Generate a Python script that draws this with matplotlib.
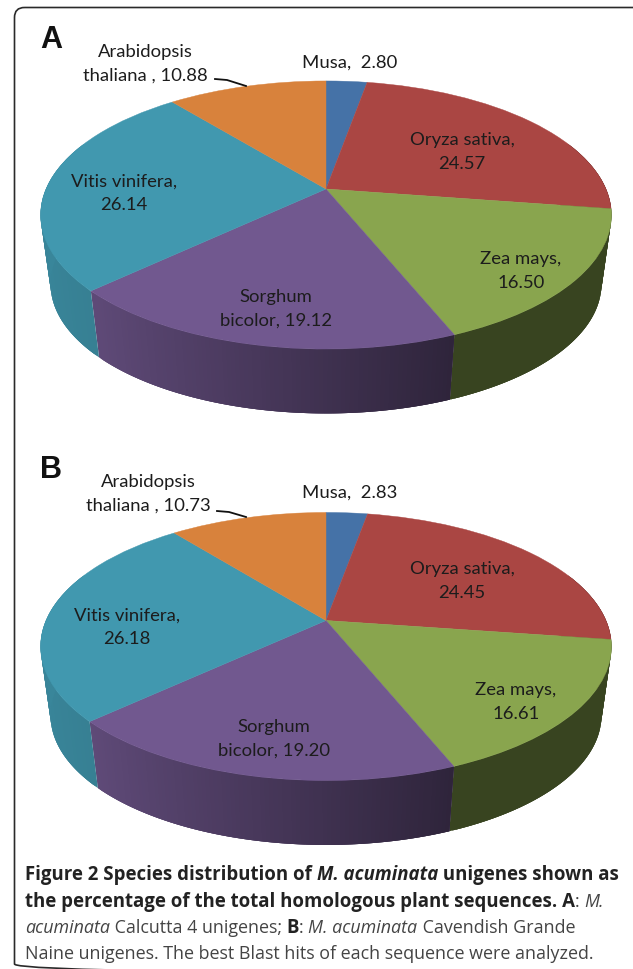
import numpy as np
import matplotlib
matplotlib.use("Agg")
import matplotlib.pyplot as plt
from matplotlib.transforms import Transform
from matplotlib.patches import FancyBboxPatch
from matplotlib.collections import PolyCollection

species = ["Musa", "Oryza sativa", "Zea mays", "Sorghum bicolor", "Vitis vinifera", "Arabidopsis thaliana"]
values_a = [2.80, 24.57, 16.50, 19.12, 26.14, 10.88]
values_b = [2.83, 24.45, 16.61, 19.20, 26.18, 10.73]
colors = ["#4572a7", "#aa4643", "#89a54e", "#71588f", "#4198af", "#d8823c"]

W, H = 633, 970
SANS = ["Lato", "DejaVu Sans"]
CAP = ["Open Sans", "DejaVu Sans"]

fig = plt.figure(figsize=(W / 100, H / 100), dpi=100)
ax = fig.add_axes([0, 0, 1, 1])


class Persp(Transform):
    input_dims = output_dims = 2

    def __init__(self, cx, cy, a=280.0, b=129.0, k=0.194, s=1.0, dy=0.0):
        super().__init__()
        self.p = (cx, cy, a, b, k, s, dy)

    def transform_non_affine(self, values):
        cx, cy, a, b, k, s, dy = self.p
        v = np.asarray(values, float)
        w = 1 + k * v[:, 1]
        return np.column_stack([cx + s * a * v[:, 0] / w, cy - s * b * v[:, 1] / w + dy])


def draw_pie(values, cy):
    top = Persp(326, cy)
    bot = Persp(326, cy, s=0.965, dy=70)
    fr = np.cumsum([0] + list(values)) / np.sum(values)
    for i, col in enumerate(colors):
        th = np.arange(fr[i] * 360, fr[i + 1] * 360 + 0.75, 0.75)
        th[-1] = min(th[-1], fr[i + 1] * 360)
        u, v = np.sin(np.radians(th)), np.cos(np.radians(th))
        pts = np.column_stack([u, v])
        pt, pb = top.transform_non_affine(pts), bot.transform_non_affine(pts)
        polys, cols = [], []
        base = np.array(matplotlib.colors.to_rgb(col))
        n = len(th)
        order = range(n - 1) if i >= 4 else range(n - 2, -1, -1)
        for j in order:
            if v[j] > 0.35 and v[j + 1] > 0.35:
                continue
            um = 0.5 * (u[j] + u[j + 1])
            f = np.interp(um, [-1, -0.73, 0.38, 1], [0.88, 0.84, 0.41, 0.41])
            # each strip overlaps its neighbour so no seams show between them
            j0, j1 = (j, min(j + 3, n - 1)) if i >= 4 else (max(j - 2, 0), j + 1)
            polys.append([pt[j0], pt[j1], pb[j1], pb[j0]])
            cols.append(tuple(base * f))
        if polys:
            ax.add_collection(PolyCollection(polys, facecolors=cols, edgecolors="none", zorder=1 + 0.01 * i))
    wedges, _ = ax.pie(values, colors=colors, startangle=90, counterclock=False, radius=1)
    for w_ in wedges:
        w_.set_transform(top + ax.transData)
        w_.set_edgecolor(w_.get_facecolor())
        w_.set_linewidth(0.3)
        w_.set_zorder(2)


draw_pie(values_a, 190)
draw_pie(values_b, 621.5)

ax.set_aspect("auto")
ax.set_xlim(0, W)
ax.set_ylim(H, 0)
ax.axis("off")

ax.add_patch(FancyBboxPatch((14.5, 8.5), 700, 966.5, boxstyle="round,pad=0,rounding_size=10",
                            fc="none", ec="#2a2a2a", lw=1.2, zorder=0, clip_on=True))


def label(x, y, s):
    ax.text(x, y, s, ha="center", va="center", family=SANS, fontsize=13.3, color="#1c1c1c",
            linespacing=1.55, zorder=5)


def lab(i, vals):
    return f"{species[i]},\n{vals[i]:.2f}"


# Panel A labels
label(350, 63, f"{species[0]},  {values_a[0]:.2f}")
label(145, 64, f"Arabidopsis\nthaliana , {values_a[5]:.2f}")
label(462, 152, lab(1, values_a))
label(521, 271, lab(2, values_a))
label(276, 309, f"Sorghum\nbicolor, {values_a[3]:.2f}")
label(124, 193, lab(4, values_a))
# Panel B labels
label(350, 493, f"{species[0]},  {values_b[0]:.2f}")
label(148, 494, f"Arabidopsis\nthaliana , {values_b[5]:.2f}")
label(462, 581, lab(1, values_b))
label(516, 702, lab(2, values_b))
label(274, 739, f"Sorghum\nbicolor, {values_b[3]:.2f}")
label(127, 627, lab(4, values_b))

ax.plot([215, 227, 246], [80, 81, 87], color="#111111", lw=1.3, zorder=5)
ax.plot([217, 229, 246], [512, 513, 518], color="#111111", lw=1.3, zorder=5)

for t, y in (("A", 39.5), ("B", 470)):
    ax.text(51, y, t, family="Liberation Sans", weight="bold", fontsize=22, ha="center", va="center", color="#111111")

# Caption
caption = [
    (880.5, [("Figure 2 Species distribution of ", "bold", "normal"), ("M. acuminata", "bold", "italic"),
             (" unigenes shown as", "bold", "normal")]),
    (907, [("the percentage of the total homologous plant sequences. A", "bold", "normal"),
           (": ", "normal", "normal"), ("M.", "normal", "italic")]),
    (933, [("acuminata", "normal", "italic"), (" Calcutta 4 unigenes; ", "normal", "normal"), ("B", "bold", "normal"),
           (": ", "normal", "normal"), ("M. acuminata", "normal", "italic"), (" Cavendish Grande", "normal", "normal")]),
    (959.5, [("Naine unigenes. The best Blast hits of each sequence were analyzed.", "normal", "normal")]),
]
fig.canvas.draw()
rend = fig.canvas.get_renderer()
for y, runs in caption:
    x = 25.0
    for s, w_, st in runs:
        t = ax.text(x, y, s, family=CAP, weight=w_, style=st, fontsize=13.45 if w_ == "bold" else 12.9,
                    va="baseline", ha="left", color="#222222" if w_ == "bold" else "#444444", zorder=5)
        x += t.get_window_extent(rend).width

fig.savefig("out.png", dpi=100)
